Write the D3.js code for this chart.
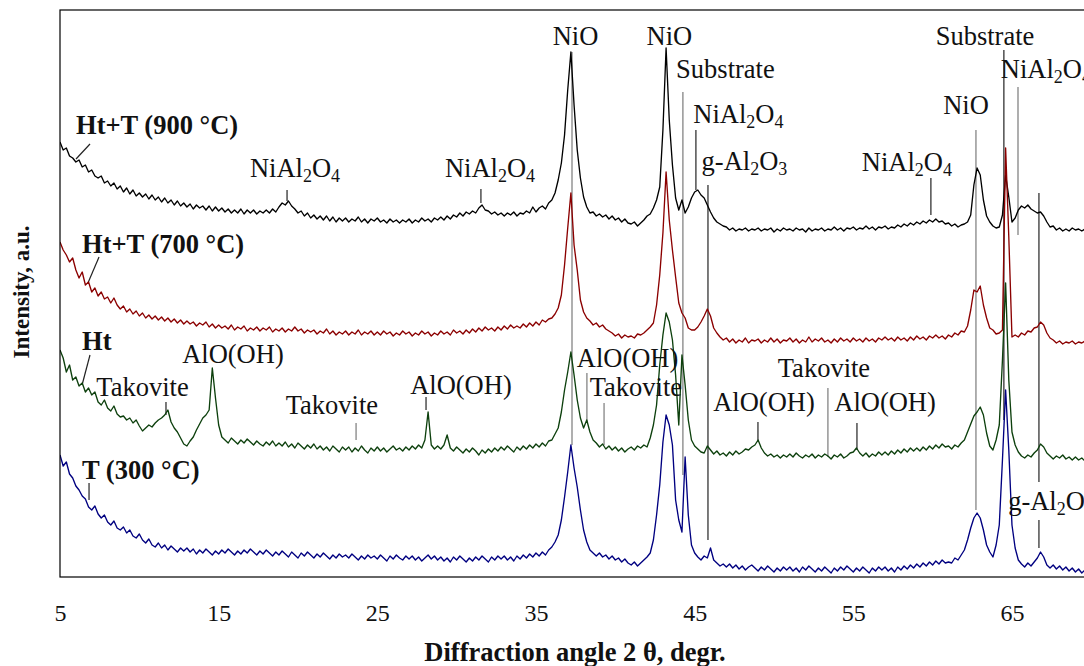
<!DOCTYPE html>
<html>
<head>
	<meta charset="utf-8">
	<title>XRD patterns</title>
	<script src="https://d3js.org/d3.v7.min.js"></script>
	<style>
		body { margin:0; background:#fff; }
		svg { display:block; font-family:"Liberation Serif","Times New Roman",serif; }
		.series { fill:none; stroke-width:1.35; stroke-linejoin:round; }
		.peak-label { font-size:26.5px; fill:#111; }
		.sample-label { font-size:26.5px; font-weight:bold; fill:#111; }
		.axis text { font-size:24px; fill:#111; font-family:"Liberation Serif",serif; }
		.axis-title { font-size:26.5px; font-weight:bold; fill:#111; }
	</style>
</head>
<body>
<svg></svg>
<script>
// scan: 5..70 deg 2theta, step 0.2 deg (326 points per pattern)
var scanStart = 5, scanStep = 0.2, scanCount = 326;
var angles = d3.range(scanCount).map(function(i){ return +(scanStart + i*scanStep).toFixed(1); });

// intensities, a.u. (patterns are offset vertically as in the figure)
var ht900 = [
435,427,429,421,419,415,417,410,412,405,
407,401,399,401,394,396,391,394,388,391,
385,389,383,387,381,384,380,383,378,382,
377,380,375,379,374,377,372,376,371,374,
370,373,368,372,369,371,367,371,366,370,
366,369,365,368,364,367,364,368,363,367,
364,367,363,366,364,367,364,368,365,370,
374,372,376,371,368,364,366,361,364,359,
362,358,361,357,361,356,360,355,359,356,
359,355,358,356,360,355,358,354,358,356,
359,355,357,354,358,355,357,354,357,355,
358,354,357,355,359,356,358,355,359,357,
360,357,361,358,362,360,364,361,365,363,
366,364,369,372,367,366,363,365,362,364,
361,364,362,365,361,364,363,366,364,370,
365,369,371,368,374,377,384,397,414,442,
487,525,472,427,399,380,370,364,365,361,
363,360,362,358,361,357,359,355,358,354,
353,355,351,354,357,361,363,369,377,390,
447,529,457,412,379,367,377,364,370,379,
385,387,382,379,372,365,359,355,353,351,
350,347,349,346,348,347,349,346,348,347,
349,346,348,347,349,345,348,346,349,347,
348,346,349,347,348,345,349,346,348,347,
349,346,348,347,350,347,349,346,349,348,
350,347,349,348,351,348,350,347,350,349,
351,348,350,349,352,350,353,351,354,352,
355,353,356,354,357,355,358,355,356,353,
354,351,353,350,352,353,355,362,392,409,
402,377,361,355,351,349,350,362,402,380,
355,359,367,371,369,372,368,366,364,365,
361,355,350,351,347,349,346,348,346,349,
347,348,346,348,347,347];

var ht700 = [
335,327,322,315,319,307,299,305,292,295,
285,289,281,285,278,280,274,279,272,268,
271,265,268,263,266,261,264,259,262,258,
261,257,260,256,259,255,258,254,257,253,
256,253,255,251,254,252,255,250,253,249,
252,249,251,248,252,247,250,248,251,246,
249,247,250,246,249,247,250,245,248,246,
249,245,248,246,250,246,248,244,247,245,
247,243,246,244,248,243,246,242,245,243,
246,242,245,243,247,242,245,243,246,242,
245,242,246,243,245,241,244,242,246,243,
245,241,244,242,246,243,245,241,244,242,
246,243,245,242,247,244,246,243,247,244,
248,245,249,246,250,247,249,246,250,247,
251,248,252,249,251,249,253,250,254,251,
255,252,257,255,258,259,263,269,282,312,
349,384,332,307,277,265,259,256,252,254,
250,252,248,246,244,241,243,239,242,240,
241,239,243,242,244,247,250,254,272,302,
344,405,357,327,300,274,264,259,249,247,
247,250,255,261,268,261,249,244,240,237,
239,235,238,234,237,235,239,234,237,236,
238,234,237,235,239,235,238,234,237,236,
239,235,238,234,237,235,240,235,238,236,
239,235,237,234,238,235,239,236,238,235,
239,236,238,235,239,236,238,235,239,237,
240,237,239,236,240,237,239,236,240,237,
241,238,240,237,241,239,242,239,241,238,
242,240,244,242,246,245,251,267,287,285,
291,272,259,249,247,243,244,247,429,340,
240,242,240,244,242,246,245,249,250,255,
252,244,239,237,234,236,233,235,234,236,
233,235,234,236,233,234];

var htOnly = [
227,219,205,212,197,200,191,194,185,189,
182,185,175,172,177,169,166,171,163,160,
161,157,159,154,157,151,146,149,152,150,
154,157,159,162,167,155,149,145,139,133,
131,136,140,147,153,159,162,167,209,179,
152,140,137,134,139,136,133,137,134,138,
135,132,136,133,131,135,132,136,131,134,
131,135,130,133,129,134,131,128,132,129,
133,128,131,127,130,126,131,128,125,130,
127,130,125,129,126,131,127,124,129,126,
130,126,129,125,128,131,127,129,126,130,
127,131,128,132,129,137,165,132,128,131,
128,132,142,129,126,130,127,124,128,125,
129,126,122,127,124,128,125,129,126,130,
127,131,128,125,130,127,131,128,132,129,
133,130,134,131,136,137,143,149,165,187,
205,225,202,177,159,149,157,145,137,134,
130,133,128,131,127,130,126,129,125,128,
130,127,131,129,132,130,139,152,172,212,
242,264,255,237,202,152,222,192,157,137,
131,128,125,124,131,127,123,126,122,124,
121,125,122,126,123,125,128,127,130,132,
137,129,124,121,123,120,122,119,122,120,
123,120,124,121,119,122,120,123,119,122,
120,123,121,118,122,120,123,119,121,124,
125,129,124,121,124,120,123,121,125,122,
125,122,126,123,127,124,128,125,129,126,
129,126,130,127,131,128,132,129,133,130,
131,128,132,130,134,137,145,153,161,165,
170,162,144,131,127,137,152,217,294,197,
145,132,125,121,119,122,120,124,127,133,
130,124,121,118,121,119,122,118,120,117,
120,117,119,116,119,118];

var t300 = [
122,111,115,103,99,91,87,81,78,70,
67,71,63,59,62,55,52,56,49,47,
50,44,47,41,39,43,37,34,38,32,
30,34,29,32,27,31,28,25,29,26,
29,25,28,23,27,24,28,25,22,26,
23,27,24,28,25,22,26,23,27,24,
28,25,22,26,23,27,24,21,25,22,
26,23,20,25,22,19,24,21,25,22,
19,23,20,24,21,18,22,19,23,20,
22,19,23,20,17,21,18,22,19,21,
18,22,19,16,21,18,22,19,17,21,
18,21,17,20,16,19,22,18,21,17,
20,16,19,15,20,17,21,18,15,19,
16,20,17,21,18,15,20,17,21,18,
21,17,20,16,21,18,22,19,23,20,
24,21,25,22,27,30,35,42,57,80,
105,132,109,90,67,47,35,27,24,21,
24,20,22,18,21,17,19,15,18,14,
12,15,11,14,17,20,24,37,62,92,
135,162,152,132,77,57,45,120,62,32,
24,20,17,21,19,29,17,14,11,13,
10,13,9,12,8,11,7,10,12,9,
6,10,7,11,8,5,9,6,10,7,
10,6,9,5,10,7,11,8,5,9,
6,10,7,4,9,6,10,7,11,8,
5,9,6,10,7,4,9,6,10,7,
10,6,9,5,10,7,11,8,12,9,
13,10,14,11,15,12,16,13,17,14,
15,14,19,17,22,27,37,49,59,64,
59,47,32,25,20,32,52,117,187,127,
52,29,17,13,10,14,11,15,19,25,
20,12,9,12,8,11,7,10,6,9,
5,8,4,7,5,4];

var seriesNames = ["Ht+T (900 °C)", "Ht+T (700 °C)", "Ht", "T (300 °C)"];
var seriesValues = [ht900, ht700, htOnly, t300];
var seriesColors = ["#000000", "#8b0000", "#0d400d", "#000080"];

var xTicks = [5, 15, 25, 35, 45, 55, 65];

// sample names: angle / intensity of the text start
var sampleLabels = [
	{text:"Ht+T (900 °C)", a:6.01, h:443},
	{text:"Ht+T (700 °C)", a:6.39, h:324},
	{text:"Ht", a:6.39, h:227},
	{text:"T (300 °C)", a:6.39, h:98}
];

// phase labels, "_" marks a subscript digit
var phaseLabels = [
	{text:"NiAl_2O_4", a:19.81, h:400},
	{text:"NiAl_2O_4", a:32.10, h:400},
	{text:"NiO", a:37.49, h:532},
	{text:"NiO", a:43.41, h:532},
	{text:"Substrate", a:46.94, h:499},
	{text:"NiAl_2O_4", a:47.76, h:454},
	{text:"g-Al_2O_3", a:48.14, h:407},
	{text:"NiAl_2O_4", a:58.38, h:406},
	{text:"NiO", a:62.10, h:463},
	{text:"Substrate", a:63.30, h:532},
	{text:"NiAl_2O_4", a:67.14, h:499},
	{text:"g-Al_2O_3", a:67.46, h:67},
	{text:"Takovite", a:10.20, h:181},
	{text:"AlO(OH)", a:15.90, h:214},
	{text:"Takovite", a:22.14, h:163},
	{text:"AlO(OH)", a:30.27, h:183},
	{text:"AlO(OH)", a:40.77, h:210},
	{text:"Takovite", a:41.30, h:181},
	{text:"AlO(OH)", a:49.37, h:166},
	{text:"Takovite", a:53.15, h:200},
	{text:"AlO(OH)", a:57.00, h:166}
];

// pointer lines [a1, h1, a2, h2, grey?]
var pointers = [
	[6.89,433,6.01,418,0],[7.46,320,6.76,294,0],[6.89,222,6.39,192,0],[6.83,94,6.83,77,0],
	[19.31,387,19.31,376,0],[31.53,388,31.53,374,0],
	[37.27,525,37.27,132,1],[44.26,485,44.26,102,1],[45.08,447,45.08,387,0],
	[45.84,392,45.84,37,0],[59.89,399,59.89,362,0],[62.73,447,62.73,67,1],
	[64.49,527,64.49,157,0],[65.38,490,65.38,342,1],[66.70,384,66.70,95,0],
	[66.70,57,66.70,29,0],
	[11.68,175,11.68,162,0],[23.66,154,23.66,137,1],[28.07,180,28.07,167,0],
	[38.21,204,38.21,154,1],[39.29,174,39.29,132,1],[48.99,155,48.99,135,0],
	[53.40,189,53.40,120,1],[55.23,154,55.23,127,0]
];

var W = 1084, H = 666;
var svg = d3.select("svg").attr("width", W).attr("height", H);
svg.append("rect").attr("width", W).attr("height", H).attr("fill", "#fff");

var x = d3.scaleLinear().domain([5, 70]).range([60, 1091.3]);
var y = d3.scaleLinear().domain([0, 567]).range([577, 10]);

svg.append("clipPath").attr("id", "plot-clip")
	.append("rect").attr("x", 60).attr("y", 10).attr("width", 1031.3).attr("height", 567);

var line = d3.line()
	.x(function(d, i){ return x(angles[i]); })
	.y(function(d){ return y(d); });

// pointer lines under the curves
svg.append("g").attr("clip-path", "url(#plot-clip)")
	.selectAll("line").data(pointers).join("line")
	.attr("x1", function(d){ return x(d[0]); }).attr("y1", function(d){ return y(d[1]); })
	.attr("x2", function(d){ return x(d[2]); }).attr("y2", function(d){ return y(d[3]); })
	.attr("stroke", function(d){ return d[4] ? "#7a7a7a" : "#222"; })
	.attr("stroke-width", 1.2);

svg.append("g").attr("clip-path", "url(#plot-clip)")
	.selectAll("path").data(seriesValues).join("path")
	.attr("class", "series")
	.attr("stroke", function(d, i){ return seriesColors[i]; })
	.attr("d", line);

// frame
svg.append("rect")
	.attr("x", 60).attr("y", 10).attr("width", 1031.3).attr("height", 567)
	.attr("fill", "none").attr("stroke", "#000").attr("stroke-width", 1.2);

// x axis
var xAxis = d3.axisBottom(x).tickValues(xTicks).tickSize(0).tickPadding(27);
var gx = svg.append("g").attr("class", "axis").attr("transform", "translate(0,577)").call(xAxis);
gx.select(".domain").remove();

svg.append("text").attr("class", "axis-title")
	.attr("x", 575).attr("y", 661).attr("text-anchor", "middle")
	.text("Diffraction angle 2 θ, degr.");

svg.append("text").attr("class", "axis-title")
	.attr("transform", "translate(29,292) rotate(-90)")
	.attr("text-anchor", "middle")
	.style("font-size", "23px")
	.text("Intensity, a.u.");

// labels
svg.append("g").selectAll("text").data(sampleLabels).join("text")
	.attr("class", "sample-label")
	.attr("x", function(d){ return x(d.a); })
	.attr("y", function(d){ return y(d.h); })
	.text(function(d){ return d.text; });

var pl = svg.append("g").selectAll("text").data(phaseLabels).join("text")
	.attr("class", "peak-label")
	.attr("x", function(d){ return x(d.a); })
	.attr("y", function(d){ return y(d.h); })
	.attr("text-anchor", "middle");

pl.each(function(d){
	var t = d3.select(this), parts = d.text.split("_");
	t.append("tspan").text(parts[0]);
	for (var k = 1; k < parts.length; k++) {
		t.append("tspan").attr("dy", 5).style("font-size", "18px").text(parts[k].charAt(0));
		t.append("tspan").attr("dy", -5).text(parts[k].slice(1));
	}
});
</script>
</body>
</html>
